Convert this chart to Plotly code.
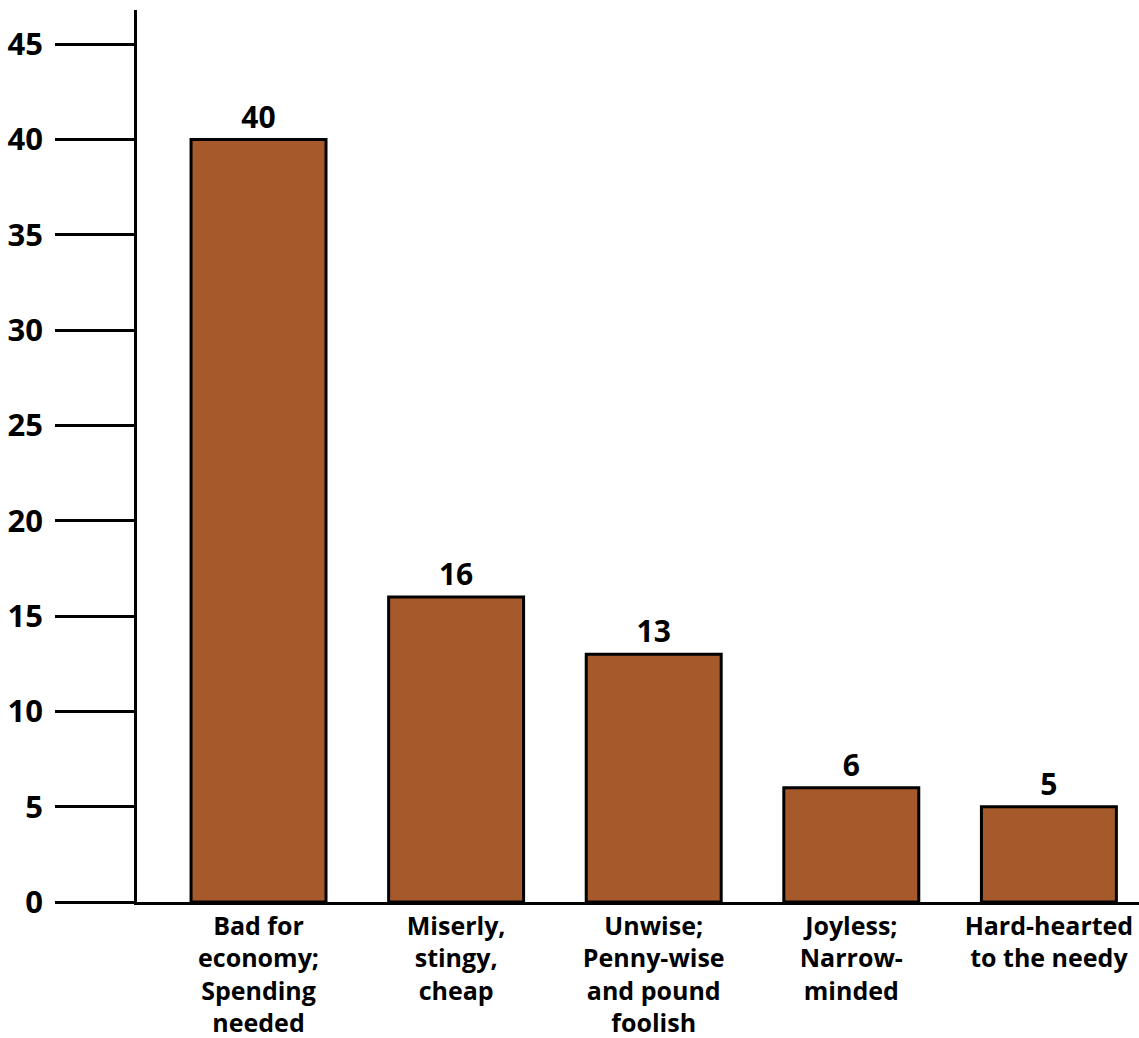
import plotly.graph_objects as go

# Survey responses: reasons given against frugality
categories = [
    "Bad for<br>economy;<br>Spending<br>needed",
    "Miserly,<br>stingy,<br>cheap",
    "Unwise;<br>Penny-wise<br>and pound<br>foolish",
    "Joyless;<br>Narrow-<br>minded",
    "Hard-hearted<br>to the needy",
]
values = [40, 16, 13, 6, 5]
y_ticks = [0, 5, 10, 15, 20, 25, 30, 35, 40, 45]

positions = list(range(len(categories)))
font_family = "Open Sans"

fig = go.Figure(
    go.Bar(
        x=positions,
        y=values,
        text=[str(v) for v in values],
        textposition="outside",
        cliponaxis=False,
        textfont=dict(family=font_family, size=30, color="black", weight="bold"),
        marker=dict(color="#A65A2B", line=dict(color="black", width=3)),
        width=0.683,
    )
)

fig.update_layout(
    width=1139,
    height=1038,
    margin=dict(l=137, r=0, t=10, b=136),
    paper_bgcolor="white",
    plot_bgcolor="white",
    showlegend=False,
    xaxis=dict(
        range=[-0.615, 4.456],
        tickmode="array",
        tickvals=positions,
        ticktext=categories,
        ticks="",
        showgrid=False,
        zeroline=False,
        showline=True,
        linecolor="black",
        linewidth=2.5,
        tickfont=dict(family=font_family, size=25, color="black", weight="bold"),
    ),
    yaxis=dict(
        range=[0, 46.8],
        tickmode="array",
        tickvals=y_ticks,
        ticks="outside",
        ticklen=79,
        tickwidth=2.5,
        tickcolor="black",
        showgrid=False,
        zeroline=False,
        showline=True,
        linecolor="black",
        linewidth=2.5,
        ticklabelstandoff=6,
        tickfont=dict(family=font_family, size=31, color="black", weight="bold"),
    ),
)

fig.write_html("out.html")
